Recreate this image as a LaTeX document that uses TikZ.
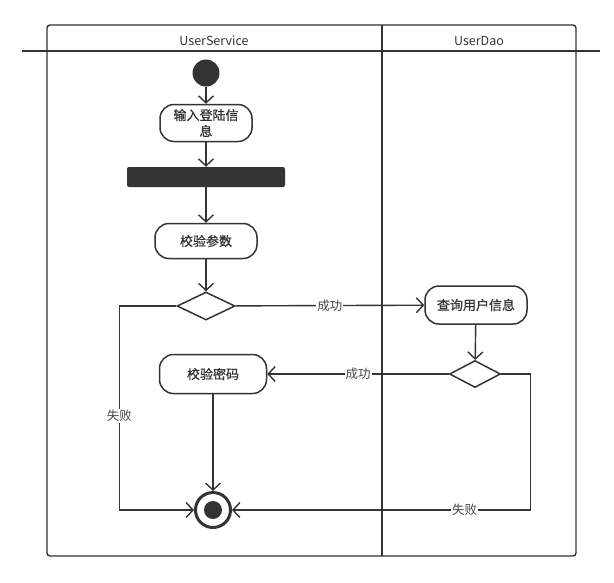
\documentclass[tikz,border=0pt]{standalone}
\usepackage{fontspec}
\setmainfont{Noto Sans CJK SC}
\newfontfamily\medfont[FakeBold=0.8]{Noto Sans CJK SC}
\usetikzlibrary{positioning,shapes.geometric,arrows.meta}
\definecolor{ink}{HTML}{333333}

\tikzset{
  act/.style={draw=ink,line width=1.5pt,rounded corners=14pt,minimum height=37pt,
    align=center,inner sep=2pt,text=ink,font=\medfont\fontsize{13}{16}\selectfont},
  choice/.style={draw=ink,line width=1.5pt,diamond,inner sep=0pt},
  flow/.style={draw=ink,line width=1.4pt,-{Straight Barb[length=7pt,width=15pt,line width=1.4pt]}},
  lbl/.style={fill=white,text=ink!90,inner sep=1pt,font=\fontsize{12.5}{14}\selectfont},
  lane/.style={text=ink,font=\fontsize{12.5}{14}\selectfont}
}

\begin{document}
\begin{tikzpicture}[x=1pt,y=-1pt]
  \useasboundingbox (0,0) rectangle (614,582);
  % swimlanes
  \draw[ink,line width=1.4pt,rounded corners=3pt] (47,25) rectangle (576,556);
  \draw[ink,line width=1.4pt] (382,25) -- (382,556);
  \draw[ink,line width=1.4pt] (22,51) -- (600,51);
  \node[lane] (laneA) at (214,41) {UserService};
  \node[lane] (laneB) at (479,41) {UserDao};

  % nodes
  \node[circle,fill=ink,minimum size=27pt,inner sep=0pt] (start) at (206,73) {};
  \node[act,minimum width=92pt] (login) at (206,123) {输入登陆信\\息};
  \node[fill=ink,rounded corners=2pt,minimum width=158pt,minimum height=20pt,inner sep=0pt] (bar) at (206,177) {};
  \node[act,minimum width=102pt,minimum height=35pt] (check) at (206,241) {校验参数};
  \node[choice,minimum width=58pt,minimum height=28pt] (dec1) at (206,306) {};
  \node[act,minimum width=102pt,minimum height=38pt] (query) at (476,305) {查询用户信息};
  \node[choice,minimum width=51pt,minimum height=27pt] (dec2) at (475,374) {};
  \node[act,minimum width=107pt,minimum height=39pt] (pwd) at (213,374) {校验密码};
  \node[circle,draw=ink,line width=3pt,minimum size=35pt,inner sep=0pt] (end) at (213,510) {};
  \fill[ink] (end.center) circle (9pt);

  % connectors
  \draw[flow] (start) -- (login);
  \draw[flow] (login) -- (bar);
  \draw[flow] (bar) -- (check);
  \draw[flow] (check) -- (dec1);
  \draw[flow] (dec1) -- node[lbl] {成功} (query);
  \draw[flow] (query) -- (dec2);
  \draw[flow] (dec2) -- node[lbl] {成功} (pwd);
  \draw[flow] (pwd) -- (end);
  \draw[flow] (dec1.west) -- ++(-57,0) |- node[lbl,pos=0.27] {失败} (end);
  \draw[flow] (dec2.east) -- ++(29,0) |- node[lbl,pos=0.61] {失败} (end);
\end{tikzpicture}
\end{document}
